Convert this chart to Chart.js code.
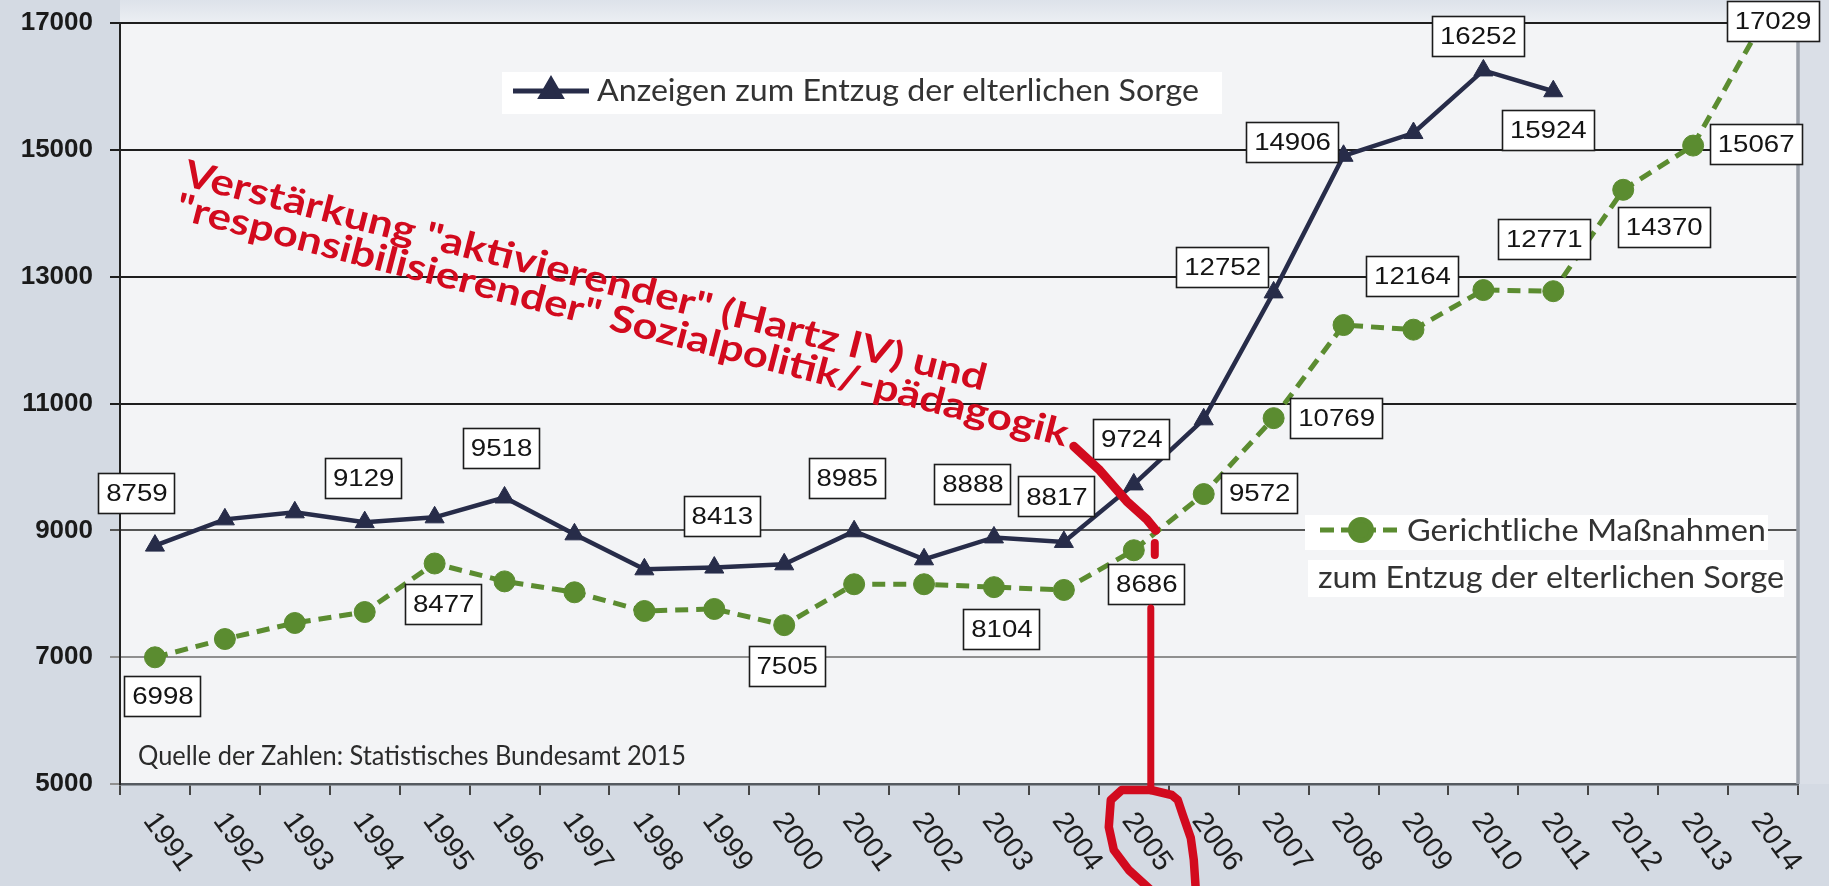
<!DOCTYPE html>
<html><head><meta charset="utf-8">
<script src="https://cdn.jsdelivr.net/npm/chart.js@4.4.1/dist/chart.umd.min.js"></script>
<style>html,body{margin:0;padding:0;background:#d4dae3;overflow:hidden}canvas{display:block}</style>
</head><body>
<canvas id="c" width="1829" height="886"></canvas>
<script>
// ---------- DATA ----------
const years = ['1991','1992','1993','1994','1995','1996','1997','1998','1999','2000','2001','2002','2003','2004','2005','2006','2007','2008','2009','2010','2011','2012','2013','2014'];
const anzeigen = [8759, 9173, 9284, 9129, 9205, 9518, 8937, 8385, 8413, 8464, 8985, 8543, 8888, 8817, 9724, 10750, 12752, 14906, 15265, 16252, 15924, null, null, null];
const massnahmen = [6998, 7286, 7539, 7712, 8477, 8195, 8023, 7728, 7760, 7505, 8150, 8150, 8104, 8060, 8686, 9572, 10769, 12237, 12164, 12789, 12771, 14370, 15067, 17029];
const yTicks = [5000, 7000, 9000, 11000, 13000, 15000, 17000];
const labeledAnzeigen = [0, 3, 5, 8, 10, 12, 13, 14, 16, 17, 19, 20];
const labeledMassnahmen = [0, 4, 9, 12, 14, 15, 16, 18, 20, 21, 22, 23];
const seriesNames = ['Anzeigen zum Entzug der elterlichen Sorge', 'Gerichtliche Maßnahmen', 'zum Entzug der elterlichen Sorge'];
const sourceNote = 'Quelle der Zahlen: Statistisches Bundesamt 2015';
const annotationLines = ['Verstärkung "aktivierender" (Hartz IV) und', '"responsibilisierender" Sozialpolitik/-pädagogik'];
const markedYearIndex = 14; // 2005

// ---------- STYLE / LAYOUT ----------
const NAVY = '#272c49';
const GREEN = '#5b8c30';
const RED = '#d20a1e';
// label box offsets (px from point)
const offA = {0:[-18,-52],3:[-1,-44],5:[-3,-49],8:[8,-51],10:[-7,-53],12:[-21,-53],13:[-7,-45],14:[-2,-45],16:[-51,-25],17:[-51,-13],19:[-5,-34],20:[-5,39]};
const offM = {0:[8,39],4:[9,41],9:[3,41],12:[8,42],14:[13,34],15:[56,-1],16:[63,0],18:[-1,-53],20:[-9,-52],21:[41,38],22:[63,-1],23:[10,0]};

const H = Chart.helpers;

function boxLabel(ctx, text, cx, cy) {
  ctx.save();
  ctx.font = '24px "Liberation Sans", Arial, sans-serif';
  const sx = 1.15;
  const tw = ctx.measureText(text).width * sx;
  const w = Math.round(tw + 16), h = 41;
  const x0 = Math.round(cx - w / 2), y0 = Math.round(cy - h / 2);
  ctx.fillStyle = '#ffffff';
  ctx.fillRect(x0, y0, w, h);
  ctx.strokeStyle = '#1c1c1c';
  ctx.lineWidth = 1.6;
  ctx.strokeRect(x0 + 0.5, y0 + 0.5, w - 1, h - 1);
  ctx.translate(cx, cy + 1);
  ctx.scale(sx, 1);
  ctx.fillStyle = '#141414';
  ctx.textAlign = 'center';
  ctx.textBaseline = 'middle';
  ctx.fillText(text, 0, 0);
  ctx.restore();
}

function fitText(ctx, text, x, y, width, font, color) {
  ctx.save();
  ctx.font = font;
  const w = ctx.measureText(text).width;
  ctx.translate(x, y);
  ctx.scale(width / w, 1);
  ctx.fillStyle = color;
  ctx.textAlign = 'left';
  ctx.textBaseline = 'middle';
  ctx.fillText(text, 0, 0);
  ctx.restore();
}

const decor = {
  id: 'decor',
  beforeDraw(chart) {
    const {ctx, chartArea: ca, width, height} = chart;
    ctx.save();
    ctx.fillStyle = '#d4dae3';
    ctx.fillRect(0, 0, width, height);
    ctx.fillStyle = '#dadfe7';
    ctx.fillRect(ca.right, 0, width - ca.right, ca.bottom);
    const g = ctx.createLinearGradient(0, 0, 0, ca.top);
    g.addColorStop(0, '#dde2ea');
    g.addColorStop(1, '#eceff3');
    ctx.fillStyle = g;
    ctx.fillRect(ca.left, 0, ca.right - ca.left, ca.top);
    ctx.fillStyle = '#f3f4f6';
    ctx.fillRect(ca.left, ca.top, ca.right - ca.left, ca.bottom - ca.top);
    ctx.restore();
  },
  beforeDatasetsDraw(chart) {
    const {ctx, chartArea: ca} = chart;
    ctx.save();
    ctx.strokeStyle = '#9ba1aa';
    ctx.lineWidth = 3.5;
    ctx.beginPath();
    ctx.moveTo(ca.right, ca.top - 4);
    ctx.lineTo(ca.right, ca.bottom);
    ctx.stroke();
    // legend white boxes (under the lines)
    ctx.fillStyle = '#ffffff';
    ctx.fillRect(1305, 515, 463, 35);
    ctx.fillRect(1308, 560, 476, 37);
    ctx.fillRect(502, 72, 720, 42);
    ctx.restore();
  },
  afterDatasetsDraw(chart) {
    const {ctx} = chart;
    const xs = chart.scales.x, ys = chart.scales.y;
    // legends
    ctx.save();
    ctx.strokeStyle = NAVY; ctx.lineWidth = 5;
    ctx.beginPath(); ctx.moveTo(513, 91); ctx.lineTo(589, 91); ctx.stroke();
    ctx.fillStyle = NAVY;
    H.drawPoint(ctx, {pointStyle: 'triangle', radius: 11, rotation: 0, borderWidth: 1}, 551, 91);
    ctx.restore();
    fitText(ctx, seriesNames[0], 597, 91, 602, '30px Lato, sans-serif', '#333333');

    ctx.save();
    ctx.strokeStyle = GREEN; ctx.lineWidth = 5; ctx.setLineDash([14, 7]);
    ctx.beginPath(); ctx.moveTo(1320, 530); ctx.lineTo(1404, 530); ctx.stroke();
    ctx.setLineDash([]);
    ctx.fillStyle = GREEN; ctx.strokeStyle = GREEN;
    H.drawPoint(ctx, {pointStyle: 'circle', radius: 10.5, rotation: 0, borderWidth: 1}, 1361, 530);
    ctx.restore();
    fitText(ctx, seriesNames[1], 1407, 531, 359, '30px Lato, sans-serif', '#333333');
    fitText(ctx, seriesNames[2], 1318, 578, 466, '30px Lato, sans-serif', '#333333');

    fitText(ctx, sourceNote, 138, 757, 548, '26px Lato, sans-serif', '#2a2a2a');

    // value labels
    labeledAnzeigen.forEach(i => {
      const o = offA[i];
      boxLabel(ctx, String(anzeigen[i]), xs.getPixelForValue(i) + o[0], ys.getPixelForValue(anzeigen[i]) + o[1]);
    });
    labeledMassnahmen.forEach(i => {
      const o = offM[i];
      boxLabel(ctx, String(massnahmen[i]), xs.getPixelForValue(i) + o[0], ys.getPixelForValue(massnahmen[i]) + o[1]);
    });
  },
  afterDraw(chart) {
    const {ctx} = chart;
    const xs = chart.scales.x, ys = chart.scales.y;
    // x labels
    ctx.save();
    ctx.font = '29px "Liberation Sans", Arial, sans-serif';
    ctx.fillStyle = '#1e1e1e';
    ctx.textAlign = 'left';
    ctx.textBaseline = 'middle';
    years.forEach((y, i) => {
      ctx.save();
      ctx.translate(xs.getPixelForValue(i) - 6, xs.top + 32);
      ctx.rotate(54 * Math.PI / 180);
      ctx.fillText(y, 0, 0);
      ctx.restore();
    });
    ctx.restore();

    // red annotation text
    const ang = 14.4 * Math.PI / 180;
    ctx.save();
    ctx.translate(182, 185);
    ctx.rotate(ang);
    fitText(ctx, annotationLines[0], 0, -12, 827, 'bold 37px Lato, sans-serif', RED);
    fitText(ctx, annotationLines[1], 0, 22, 920, 'bold 37px Lato, sans-serif', RED);
    ctx.restore();

    // red marker lines
    const ax = xs.getPixelForValue(markedYearIndex);
    const a9 = ys.getPixelForValue(9000);
    const ab = ys.bottom;
    ctx.save();
    ctx.strokeStyle = RED; ctx.lineCap = 'round'; ctx.lineJoin = 'round';
    ctx.lineWidth = 9;
    ctx.beginPath();
    [[-60,-84],[-35,-61],[-7,-29],[13,-11],[22,0]].forEach((p, k) => k ? ctx.lineTo(ax + p[0], a9 + p[1]) : ctx.moveTo(ax + p[0], a9 + p[1]));
    ctx.stroke();
    ctx.lineWidth = 8;
    ctx.beginPath(); ctx.moveTo(ax + 21, ab - 241); ctx.lineTo(ax + 21, ab - 229); ctx.stroke();
    ctx.lineWidth = 7;
    ctx.beginPath(); ctx.moveTo(ax + 17, ab - 176); ctx.lineTo(ax + 17, ab + 6); ctx.stroke();
    ctx.lineWidth = 8.5;
    ctx.beginPath();
    [[17,6],[-12,6],[-23,16],[-25,43],[-20,66],[-5,86],[17,106]].forEach((p, k) => k ? ctx.lineTo(ax + p[0], ab + p[1]) : ctx.moveTo(ax + p[0], ab + p[1]));
    ctx.stroke();
    ctx.beginPath();
    [[17,6],[38,11],[44,16],[49,31],[57,54],[60,76],[62,106]].forEach((p, k) => k ? ctx.lineTo(ax + p[0], ab + p[1]) : ctx.moveTo(ax + p[0], ab + p[1]));
    ctx.stroke();
    ctx.restore();
  }
};

new Chart(document.getElementById('c').getContext('2d'), {
  type: 'line',
  data: {
    labels: years,
    datasets: [
      { label: seriesNames[0], data: anzeigen, borderColor: NAVY, backgroundColor: NAVY, pointBorderColor: NAVY,
        borderWidth: 4.5, pointStyle: 'triangle', pointRadius: 11, pointBorderWidth: 1, tension: 0, clip: false, spanGaps: false },
      { label: seriesNames[1] + ' ' + seriesNames[2], data: massnahmen, borderColor: GREEN, backgroundColor: GREEN, pointBorderColor: GREEN,
        borderWidth: 5, borderDash: [13, 8], pointStyle: 'circle', pointRadius: 10.5, pointBorderWidth: 1, tension: 0, clip: false }
    ]
  },
  options: {
    responsive: false, animation: false, devicePixelRatio: 1,
    layout: { padding: { top: 23, right: 31, left: 0, bottom: 0 } },
    plugins: { legend: { display: false }, tooltip: { enabled: false } },
    scales: {
      x: {
        offset: true,
        grid: { offset: true, drawOnChartArea: false, drawTicks: true, tickLength: 11, color: '#454545', lineWidth: 2 },
        border: { display: true, color: '#555a60', width: 2.5 },
        ticks: { display: false },
        afterFit: s => { s.height = 102; }
      },
      y: {
        min: 5000, max: 17000,
        afterBuildTicks: s => { s.ticks = yTicks.map(v => ({ value: v })); },
        ticks: { callback: v => String(v), font: { family: '"Liberation Sans", Arial, sans-serif', size: 26, weight: 'bold' }, color: '#1a1a1a', padding: 17 },
        grid: {
          color: c => (c.tick && c.tick.value <= 7000) ? '#8f8f8f' : (c.tick && c.tick.value === 9000 ? '#555' : '#1e1e1e'),
          lineWidth: 2, tickLength: 10, drawTicks: true
        },
        border: { color: '#222', width: 2 },
        afterFit: s => { s.width = 120; s.paddingTop = 10; s.paddingBottom = 10; }
      }
    }
  },
  plugins: [decor]
});
</script>
</body></html>
